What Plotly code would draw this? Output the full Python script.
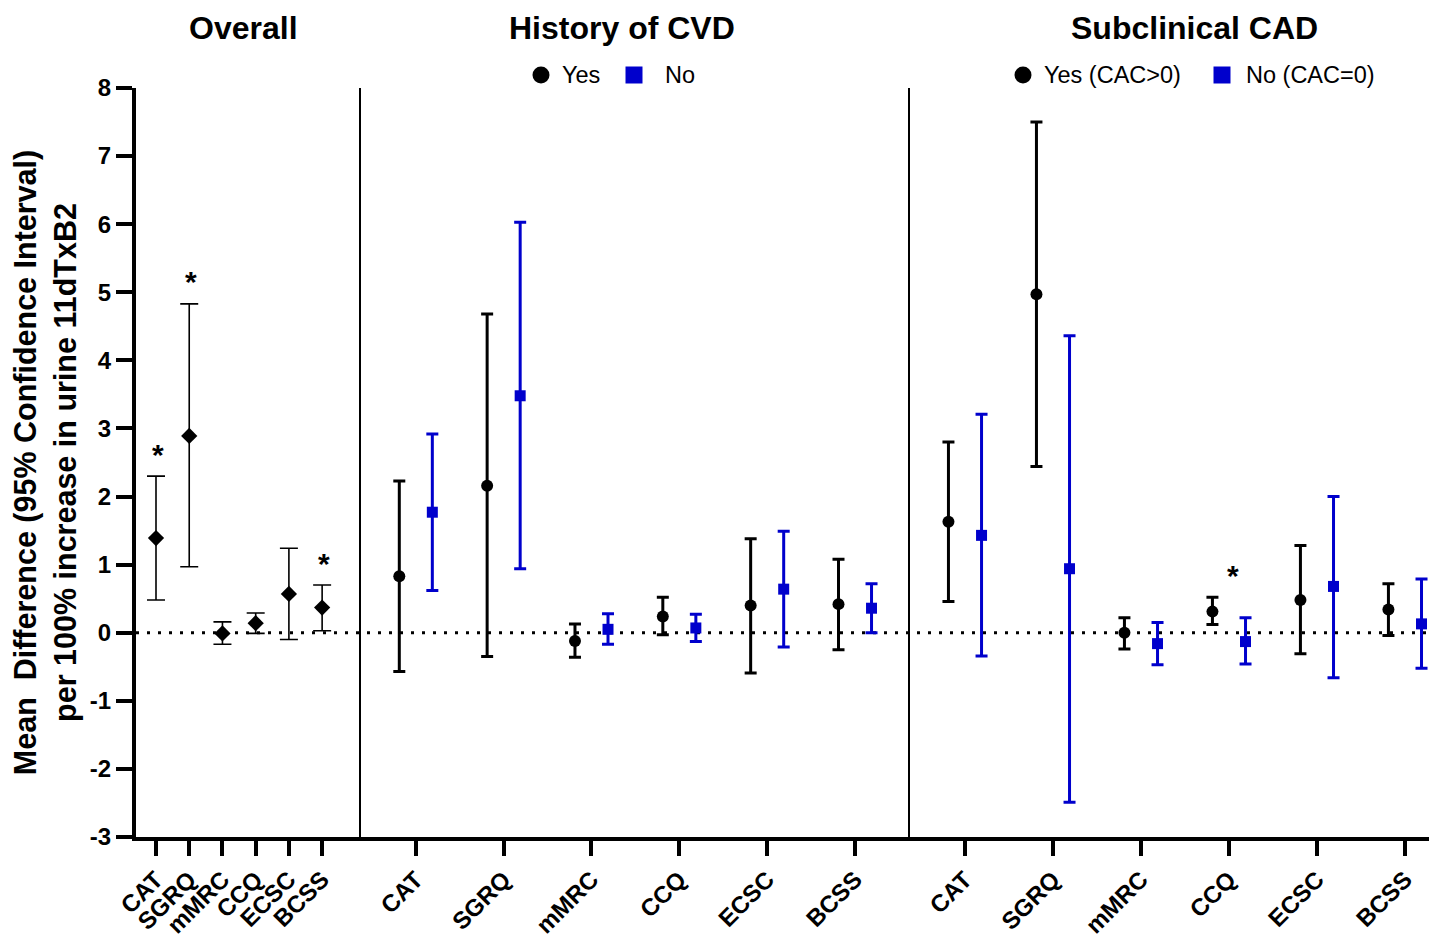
import plotly.graph_objects as go

# ---------------- data ----------------
categories = ["CAT", "SGRQ", "mMRC", "CCQ", "ECSC", "BCSS"]

overall_est = [1.39, 2.89, -0.01, 0.14, 0.57, 0.37]
overall_lo = [0.48, 0.97, -0.17, -0.01, -0.10, 0.03]
overall_hi = [2.30, 4.83, 0.16, 0.29, 1.24, 0.70]
overall_sig = [True, True, False, False, False, True]

cvd_yes_est = [0.83, 2.16, -0.12, 0.24, 0.40, 0.42]
cvd_yes_lo = [-0.57, -0.35, -0.36, -0.03, -0.59, -0.25]
cvd_yes_hi = [2.23, 4.68, 0.13, 0.52, 1.38, 1.08]
cvd_no_est = [1.77, 3.48, 0.05, 0.07, 0.64, 0.36]
cvd_no_lo = [0.62, 0.94, -0.17, -0.13, -0.21, 0.00]
cvd_no_hi = [2.92, 6.03, 0.28, 0.27, 1.49, 0.72]

cad_yes_est = [1.63, 4.97, 0.00, 0.31, 0.48, 0.34]
cad_yes_lo = [0.46, 2.44, -0.24, 0.12, -0.31, -0.04]
cad_yes_hi = [2.80, 7.50, 0.22, 0.52, 1.28, 0.72]
cad_no_est = [1.43, 0.94, -0.16, -0.13, 0.68, 0.13]
cad_no_lo = [-0.34, -2.49, -0.47, -0.46, -0.66, -0.52]
cad_no_hi = [3.21, 4.36, 0.15, 0.22, 2.00, 0.79]
cad_sig = [False, False, False, True, False, False]

y_ticks = [-3, -2, -1, 0, 1, 2, 3, 4, 5, 6, 7, 8]
y_ticklabels = ["-3", "-2", "-1", "0", "1", "2", "3", "4", "5", "6", "7", "8"]

panel_titles = ["Overall", "History of CVD", "Subclinical CAD"]
cvd_legend = ["Yes", "No"]
cad_legend = ["Yes (CAC>0)", "No (CAC=0)"]
y_title = "Mean  Difference (95% Confidence Interval)<br>per 100% increase in urine 11dTxB2"

# ---------------- style ----------------
# page body has an 8px margin, so figure pixel = screen pixel - 8
SHIFT = 8
W, H = 1437 - SHIFT, 940 - SHIFT
ML, MR, MT = 136 - SHIFT, 0, 88 - SHIFT
PLOT_BOTTOM = 837 - SHIFT
MB = H - PLOT_BOTTOM
PW, PH = W - ML - MR, H - MT - MB
BLUE = "#0000CC"
FONT = "Liberation Sans, Arial, sans-serif"


def px_x(p):  # p: screen pixel
    return (p - SHIFT - ML) / PW


def px_y(p):
    return (PLOT_BOTTOM - (p - SHIFT)) / PH


d1 = px_x(361)
d2 = px_x(910)
pos = list(range(len(categories)))
off = 0.188


def err(est, lo, hi):
    return dict(type="data", symmetric=False,
                array=[h - e for e, h in zip(est, hi)],
                arrayminus=[e - l for e, l in zip(est, lo)])


fig = go.Figure()

# Overall panel
e = err(overall_est, overall_lo, overall_hi)
e.update(color="black", thickness=1.6, width=9)
fig.add_trace(go.Scatter(x=pos, y=overall_est, mode="markers", xaxis="x", yaxis="y",
                         marker=dict(symbol="diamond", size=12.5, color="black"),
                         error_y=e, showlegend=False, cliponaxis=False))

# CVD panel
for est, lo, hi, col, sym, sz, sgn in [
        (cvd_yes_est, cvd_yes_lo, cvd_yes_hi, "black", "circle", 12, -1),
        (cvd_no_est, cvd_no_lo, cvd_no_hi, BLUE, "square", 11, 1)]:
    e = err(est, lo, hi)
    e.update(color=col, thickness=3, width=6)
    fig.add_trace(go.Scatter(x=[p + sgn * off for p in pos], y=est, mode="markers",
                             xaxis="x2", yaxis="y2",
                             marker=dict(symbol=sym, size=sz, color=col),
                             error_y=e, showlegend=False, cliponaxis=False))

# CAD panel
for est, lo, hi, col, sym, sz, sgn in [
        (cad_yes_est, cad_yes_lo, cad_yes_hi, "black", "circle", 12, -1),
        (cad_no_est, cad_no_lo, cad_no_hi, BLUE, "square", 11, 1)]:
    e = err(est, lo, hi)
    e.update(color=col, thickness=3, width=6)
    fig.add_trace(go.Scatter(x=[p + sgn * off for p in pos], y=est, mode="markers",
                             xaxis="x3", yaxis="y3",
                             marker=dict(symbol=sym, size=sz, color=col),
                             error_y=e, showlegend=False, cliponaxis=False))

xtickfont = dict(family=FONT, size=24, color="black", weight="bold")
ytickfont = dict(family=FONT, size=24, color="black", weight="bold")
xcommon = dict(tickmode="array", tickvals=pos, ticktext=categories, tickangle=-45,
               tickfont=xtickfont, showline=True, linewidth=4, linecolor="black",
               ticks="outside", ticklen=15, tickwidth=4, tickcolor="black",
               showgrid=False, zeroline=False, fixedrange=True, automargin=False)
ycommon = dict(range=[-3, 8], showgrid=False, zeroline=False, fixedrange=True,
               automargin=False)

fig.update_layout(
    width=W, height=H,
    margin=dict(l=ML, r=MR, t=MT, b=MB, autoexpand=False),
    paper_bgcolor="white", plot_bgcolor="white",
    showlegend=False,
    xaxis=dict(domain=[0, d1], range=[-0.602, 6.17], anchor="y", **xcommon),
    xaxis2=dict(domain=[d1, d2], range=[-0.624, 5.626], anchor="y2", **xcommon),
    xaxis3=dict(domain=[d2, 1], range=[-0.625, 5.364], anchor="y3", **xcommon),
    yaxis=dict(anchor="x", domain=[0, 1], showline=True, linewidth=4, linecolor="black",
               ticks="outside", ticklen=16, tickwidth=4, tickcolor="black",
               tickmode="array", tickvals=y_ticks, ticktext=y_ticklabels,
               tickfont=ytickfont,
               title=dict(text=y_title, standoff=18,
                          font=dict(family=FONT, size=30.5, color="black", weight="bold")),
               **ycommon),
    yaxis2=dict(anchor="x2", domain=[0, 1], matches="y", showline=True, linewidth=2,
                linecolor="black", showticklabels=False, ticks="", **ycommon),
    yaxis3=dict(anchor="x3", domain=[0, 1], matches="y", showline=True, linewidth=2,
                linecolor="black", showticklabels=False, ticks="", **ycommon),
)

# dotted zero reference line across all panels
fig.add_shape(type="line", xref="paper", yref="y", x0=0, x1=1, y0=0, y1=0,
              line=dict(color="black", width=3, dash="3px,8px"), layer="below")

# panel titles
for txt, cx in zip(panel_titles, [243, 622, 1194]):
    fig.add_annotation(text=f"<b>{txt}</b>", xref="paper", yref="paper",
                       x=px_x(cx), y=px_y(28), xanchor="center", yanchor="middle",
                       showarrow=False, font=dict(family=FONT, size=32, color="black"))

# legends (drawn as shapes + text)
ly = px_y(75)


def legend_item(cx, label, tx, kind, col):
    r = 8.5
    x0, x1 = px_x(cx - r), px_x(cx + r)
    y0, y1 = px_y(75 + r), px_y(75 - r)
    fig.add_shape(type="circle" if kind == "circle" else "rect", xref="paper", yref="paper",
                  x0=x0, x1=x1, y0=y0, y1=y1, fillcolor=col, line=dict(width=0))
    fig.add_annotation(text=label, xref="paper", yref="paper", x=px_x(tx), y=ly,
                       xanchor="left", yanchor="middle", showarrow=False,
                       font=dict(family=FONT, size=23.5, color="black"))


legend_item(541, cvd_legend[0], 560, "circle", "black")
legend_item(634, cvd_legend[1], 663, "square", BLUE)
legend_item(1023, cad_legend[0], 1042, "circle", "black")
legend_item(1222, cad_legend[1], 1244, "square", BLUE)

# significance asterisks
for i, s in enumerate(overall_sig):
    if s:
        fig.add_annotation(text="<b>*</b>", xref="x", yref="y", x=pos[i] + 0.06, y=overall_hi[i],
                           yshift=22, showarrow=False, xanchor="center", yanchor="middle",
                           font=dict(family=FONT, size=30, color="black"))
for i, s in enumerate(cad_sig):
    if s:
        fig.add_annotation(text="<b>*</b>", xref="x3", yref="y3", x=pos[i] + 0.05,
                           y=max(cad_yes_hi[i], cad_no_hi[i]),
                           yshift=22, showarrow=False, xanchor="center", yanchor="middle",
                           font=dict(family=FONT, size=30, color="black"))

fig.write_html("out.html")
